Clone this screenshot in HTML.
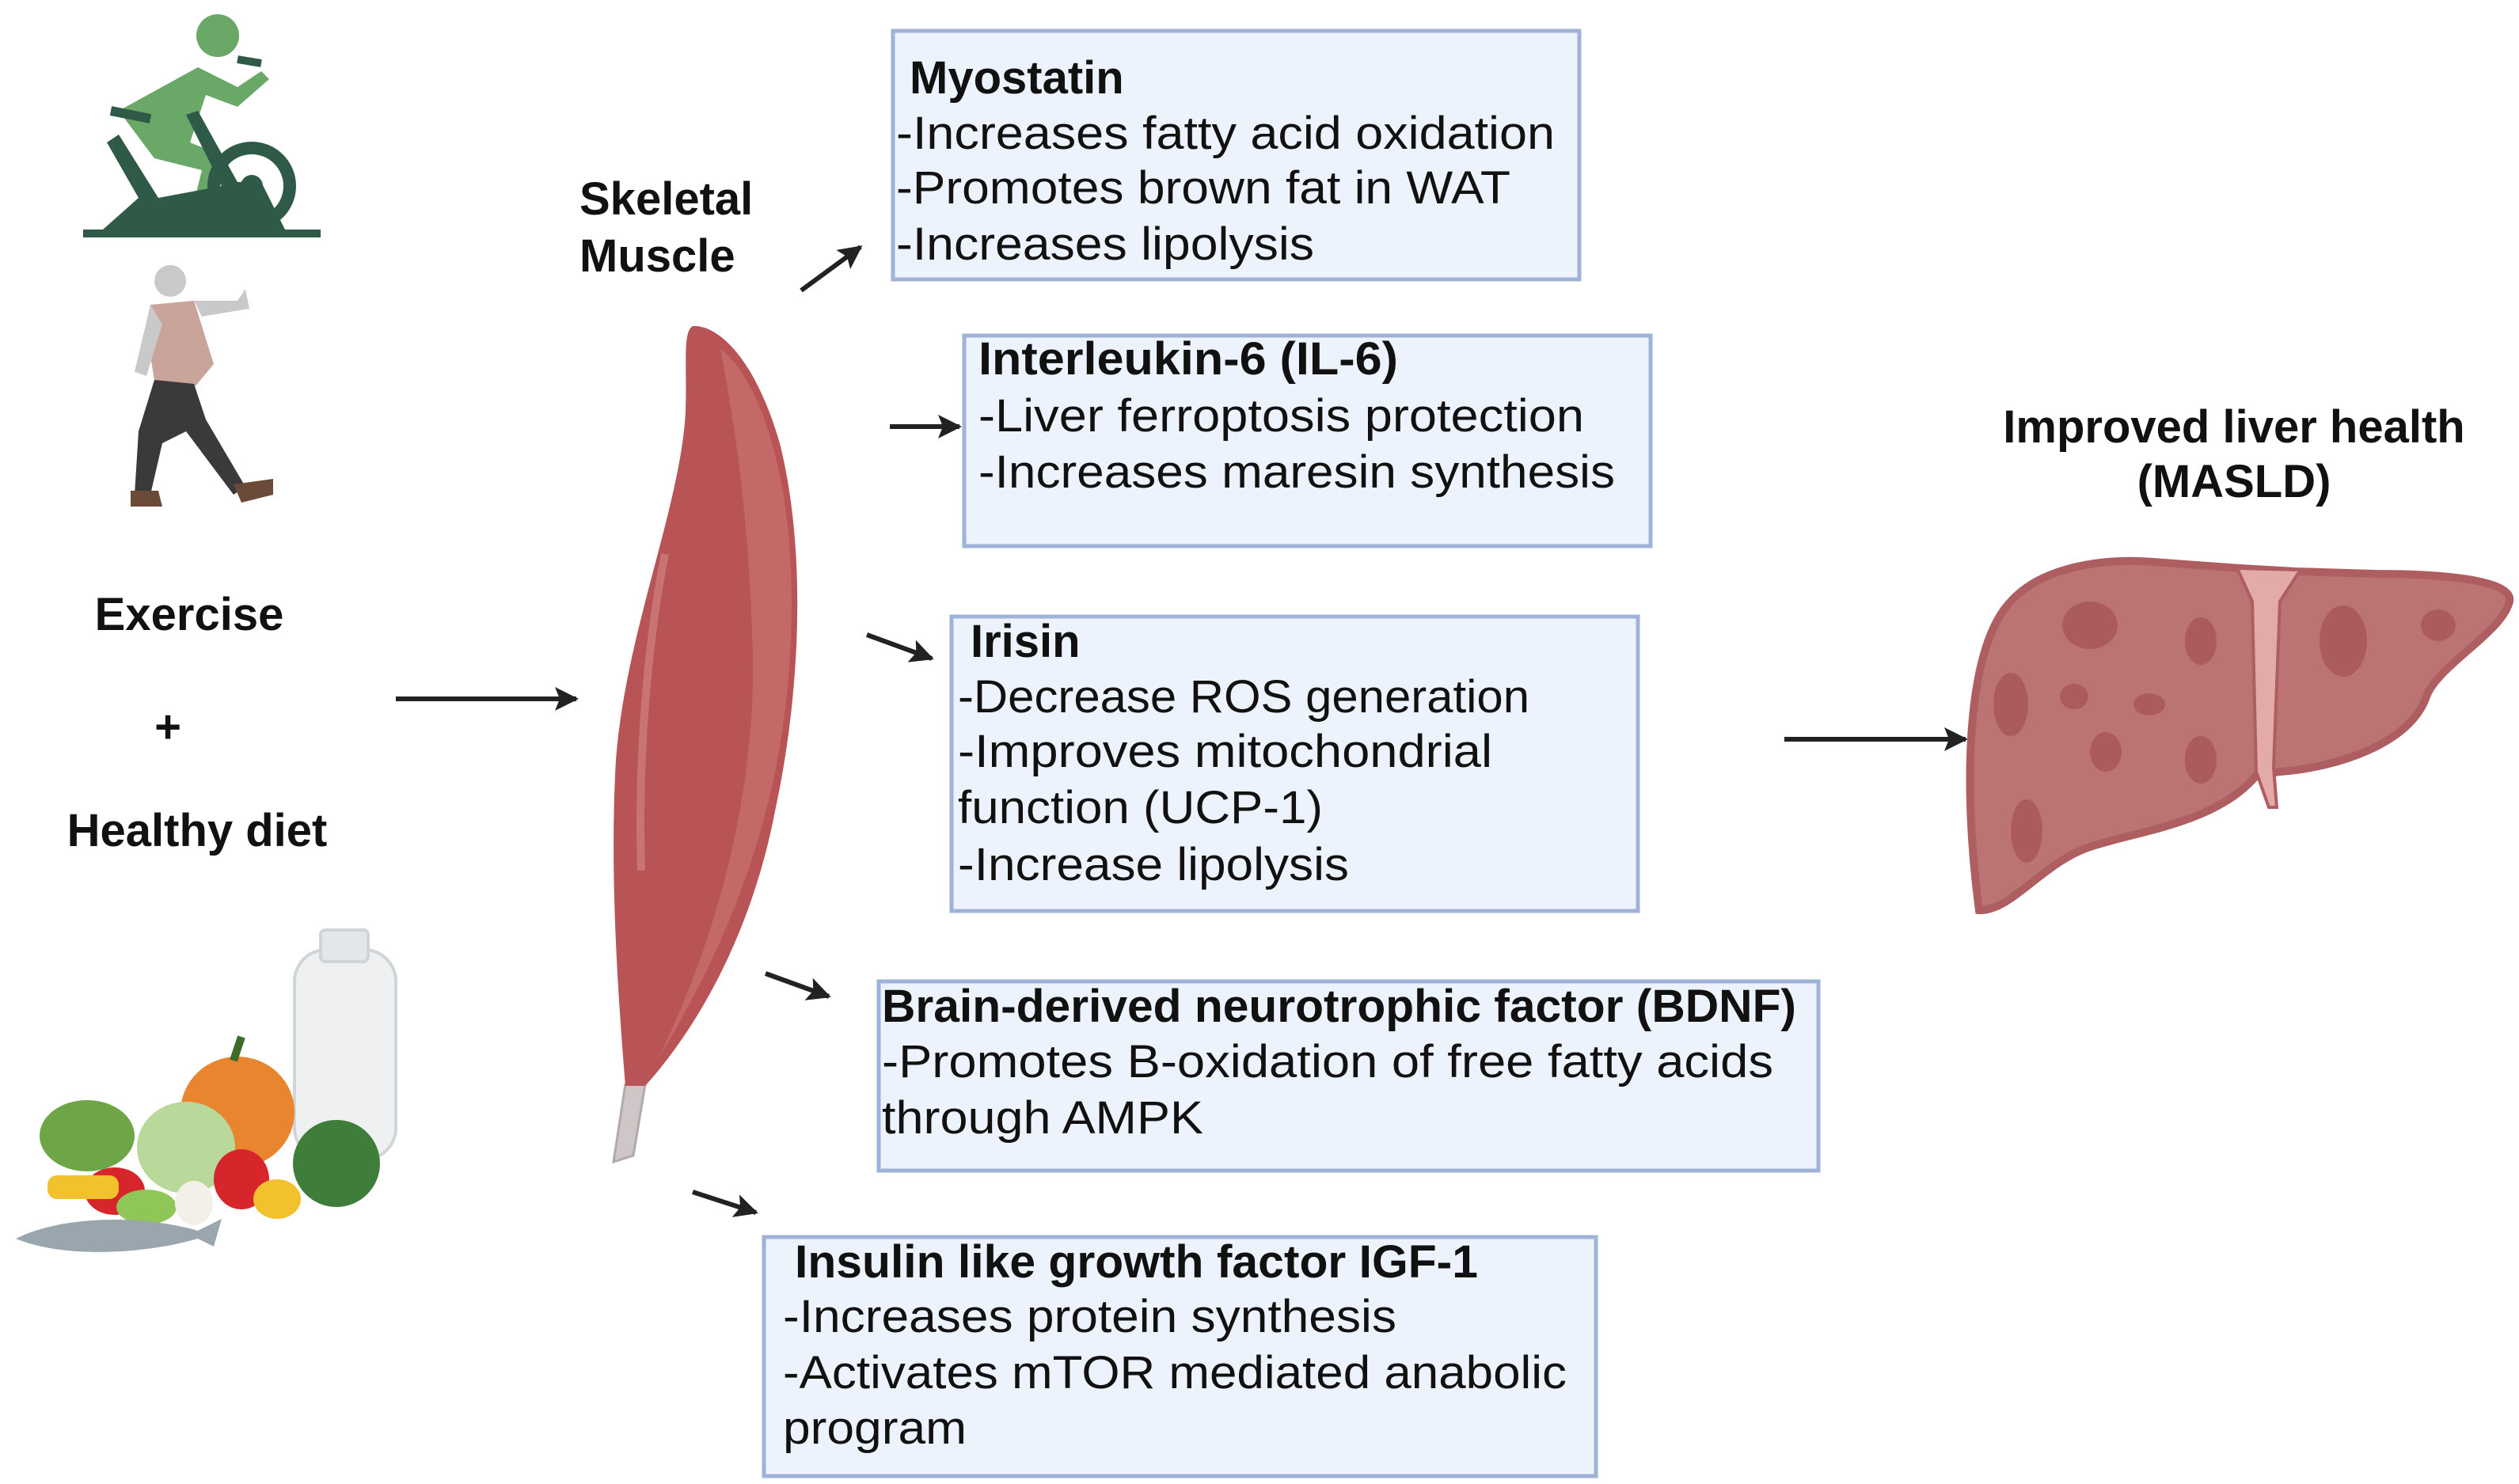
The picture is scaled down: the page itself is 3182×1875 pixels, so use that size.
<!DOCTYPE html>
<html><head><meta charset="utf-8"><style>
html,body{margin:0;padding:0;background:#fff;}
svg{display:block;}
text{font-family:"Liberation Sans",sans-serif;fill:#111;}
.t{font-weight:bold;font-size:58px;}
.l{font-size:58px;}
</style></head><body>
<svg width="3182" height="1875" viewBox="0 0 3182 1875" xmlns="http://www.w3.org/2000/svg">
<defs>
<marker id="ah" viewBox="0 0 10 10" refX="9" refY="5" markerWidth="5" markerHeight="5" orient="auto" markerUnits="strokeWidth">
<path d="M0,0 L10,5 L0,10 L2,5 Z" fill="#222"/></marker>
</defs>

<!-- cyclist -->
<g>
<circle cx="275" cy="45" r="27" fill="#6aa868"/>
<path d="M150 140 L250 85 L300 110 L330 90 L340 100 L300 135 L260 120 L240 180 L290 200 L270 260 L245 255 L255 215 L195 200 Z" fill="#6aa868"/>
<path d="M105 300 L405 300 L405 290 L360 290 L330 230 L300 230 L250 140 L235 145 L280 235 L200 250 L150 170 L135 180 L175 250 L130 290 L105 290 Z" fill="#2f5a48"/>
<circle cx="318" cy="235" r="48" fill="none" stroke="#2f5a48" stroke-width="16"/>
<circle cx="318" cy="235" r="14" fill="#2f5a48"/>
<path d="M140 140 L190 150" stroke="#2f5a48" stroke-width="12"/>
<path d="M300 75 L330 80" stroke="#2f5a48" stroke-width="10"/>
</g>
<!-- walker -->
<g>
<circle cx="215" cy="355" r="20" fill="#c9c9c9"/>
<path d="M190 385 L245 380 L270 460 L245 490 L195 480 L185 420 Z" fill="#c8a49a"/>
<path d="M190 385 L170 470 L185 475 L205 410 Z" fill="#c9c9c9"/>
<path d="M245 380 L300 380 L310 365 L315 390 L255 400 Z" fill="#c9c9c9"/>
<path d="M195 480 L245 485 L260 530 L310 615 L295 625 L235 545 L205 560 L190 625 L170 625 L175 545 Z" fill="#3a3a3a"/>
<path d="M165 620 L200 620 L205 640 L165 640 Z M295 612 L345 605 L345 625 L305 635 Z" fill="#6b4a3a"/>
</g>
<!-- food -->
<g>
<rect x="372" y="1200" width="128" height="265" rx="40" fill="#eef0f1" stroke="#cfd4d6" stroke-width="4"/>
<rect x="405" y="1175" width="60" height="40" rx="6" fill="#e4e7e9" stroke="#cfd4d6" stroke-width="4"/>
<ellipse cx="300" cy="1405" rx="72" ry="70" fill="#e9852e"/>
<path d="M295 1340 L305 1310" stroke="#3d6b2a" stroke-width="10"/>
<ellipse cx="110" cy="1435" rx="60" ry="45" fill="#6ea546"/>
<ellipse cx="235" cy="1450" rx="62" ry="58" fill="#b9d99a"/>
<ellipse cx="425" cy="1470" rx="55" ry="55" fill="#3f7e3a"/>
<ellipse cx="305" cy="1490" rx="35" ry="38" fill="#d6262c"/>
<ellipse cx="145" cy="1505" rx="38" ry="30" fill="#d6262c"/>
<rect x="60" y="1485" width="90" height="30" rx="12" fill="#f2c12e"/>
<ellipse cx="350" cy="1515" rx="30" ry="25" fill="#f2c12e"/>
<ellipse cx="185" cy="1525" rx="38" ry="22" fill="#8ec657"/>
<ellipse cx="245" cy="1520" rx="24" ry="28" fill="#f2f0e8"/>
<path d="M20 1565 C 80 1535, 180 1535, 250 1555 L 280 1540 L 270 1575 L 250 1565 C 180 1585, 80 1590, 20 1565 Z" fill="#9aa6ad"/>
</g>

<!-- left labels -->
<text class="t" x="239" y="796" text-anchor="middle" font-size="60">Exercise</text>
<text class="t" x="212" y="938" text-anchor="middle" font-size="60">+</text>
<text class="t" x="249" y="1069" text-anchor="middle" font-size="60">Healthy diet</text>
<text class="t" x="732" y="271" font-size="60">Skeletal</text>
<text class="t" x="732" y="343" font-size="60">Muscle</text>

<!-- muscle -->
<path d="M790 1370 L815 1370 L800 1460 L775 1468 Z" fill="#cfc7c7" stroke="#b3aaaa" stroke-width="3"/>
<path d="M875 412 C 900 410, 950 440, 985 560 C 1020 700, 1010 880, 980 1020 C 950 1180, 880 1300, 815 1372 L 790 1372 C 780 1250, 770 1100, 778 960 C 790 800, 860 640, 866 520 C 868 460, 862 420, 875 412 Z" fill="#b85455"/>
<path d="M910 440 C 960 480, 1000 600, 1000 760 C 1000 980, 940 1160, 830 1340 C 900 1200, 960 1000, 950 800 C 945 640, 925 520, 910 440 Z" fill="#c46b69" opacity="0.9"/>
<path d="M840 700 C 820 800, 805 950, 810 1100" stroke="#c87472" stroke-width="10" fill="none"/>

<!-- arrows -->
<g stroke="#222" stroke-width="6" fill="none" marker-end="url(#ah)">
<line x1="500" y1="883" x2="728" y2="883"/>
<line x1="2254" y1="934" x2="2483" y2="934"/>
<line x1="1012" y1="367" x2="1087" y2="312"/>
<line x1="1124" y1="539" x2="1212" y2="539"/>
<line x1="1095" y1="802" x2="1177" y2="832"/>
<line x1="967" y1="1230" x2="1047" y2="1259"/>
<line x1="875" y1="1506" x2="955" y2="1532"/>
</g>

<!-- boxes -->
<g fill="#edf3fc" stroke="#9fb3d9" stroke-width="5">
<rect x="1128" y="39" width="867" height="314"/>
<rect x="1218" y="424" width="867" height="266"/>
<rect x="1202" y="779" width="867" height="372"/>
<rect x="1110" y="1240" width="1187" height="239"/>
<rect x="965" y="1563" width="1051" height="302"/>
</g>

<text class="t" x="1149" y="118">Myostatin</text>
<text class="l" x="1132" y="188" textLength="832" lengthAdjust="spacingAndGlyphs">-Increases fatty acid oxidation</text>
<text class="l" x="1132" y="257" textLength="776" lengthAdjust="spacingAndGlyphs">-Promotes brown fat in WAT</text>
<text class="l" x="1132" y="328" textLength="528" lengthAdjust="spacingAndGlyphs">-Increases lipolysis</text>

<text class="t" x="1236" y="473" textLength="530" lengthAdjust="spacingAndGlyphs">Interleukin-6 (IL-6)</text>
<text class="l" x="1236" y="545" textLength="765" lengthAdjust="spacingAndGlyphs">-Liver ferroptosis protection</text>
<text class="l" x="1236" y="616" textLength="804" lengthAdjust="spacingAndGlyphs">-Increases maresin synthesis</text>

<text class="t" x="1226" y="830">Irisin</text>
<text class="l" x="1210" y="900" textLength="722" lengthAdjust="spacingAndGlyphs">-Decrease ROS generation</text>
<text class="l" x="1210" y="969" textLength="675" lengthAdjust="spacingAndGlyphs">-Improves mitochondrial</text>
<text class="l" x="1210" y="1040" textLength="461" lengthAdjust="spacingAndGlyphs">function (UCP-1)</text>
<text class="l" x="1210" y="1112" textLength="494" lengthAdjust="spacingAndGlyphs">-Increase lipolysis</text>

<text class="t" x="1114" y="1291" textLength="1155" lengthAdjust="spacingAndGlyphs">Brain-derived neurotrophic factor (BDNF)</text>
<text class="l" x="1114" y="1361" textLength="1126" lengthAdjust="spacingAndGlyphs">-Promotes B-oxidation of free fatty acids</text>
<text class="l" x="1114" y="1432" textLength="406" lengthAdjust="spacingAndGlyphs">through AMPK</text>

<text class="t" x="1004" y="1614" textLength="863" lengthAdjust="spacingAndGlyphs">Insulin like growth factor IGF-1</text>
<text class="l" x="989" y="1683" textLength="775" lengthAdjust="spacingAndGlyphs">-Increases protein synthesis</text>
<text class="l" x="989" y="1754" textLength="990" lengthAdjust="spacingAndGlyphs">-Activates mTOR mediated anabolic</text>
<text class="l" x="989" y="1824" textLength="232" lengthAdjust="spacingAndGlyphs">program</text>

<text class="t" x="2822" y="559" text-anchor="middle" font-size="60">Improved liver health</text>
<text class="t" x="2822" y="628" text-anchor="middle" font-size="60">(MASLD)</text>

<!-- liver -->
<path d="M2500 1150 C 2480 1000, 2482 820, 2540 760 C 2580 715, 2660 705, 2720 710 L 2830 718 L 2900 722 L 3000 725 C 3100 725, 3175 735, 3170 760 C 3160 800, 3080 840, 3065 880 C 3045 940, 2950 970, 2880 975 L 2850 980 C 2800 1040, 2700 1050, 2640 1070 C 2580 1090, 2540 1152, 2500 1150 Z" fill="#bb7473" stroke="#ae5e60" stroke-width="10"/>
<path d="M2826 718 L2906 720 L2880 760 L2872 970 L2876 1020 L2866 1020 L2850 975 L2845 760 Z" fill="#e2aaa8" stroke="#ae5e60" stroke-width="4"/>
<g fill="#a95558" opacity="0.8">
<ellipse cx="2640" cy="790" rx="35" ry="30"/>
<ellipse cx="2540" cy="890" rx="22" ry="40"/>
<ellipse cx="2620" cy="880" rx="18" ry="16"/>
<ellipse cx="2715" cy="890" rx="20" ry="14"/>
<ellipse cx="2660" cy="950" rx="20" ry="25"/>
<ellipse cx="2780" cy="810" rx="20" ry="30"/>
<ellipse cx="2780" cy="960" rx="20" ry="30"/>
<ellipse cx="2960" cy="810" rx="30" ry="45"/>
<ellipse cx="3080" cy="790" rx="22" ry="20"/>
<ellipse cx="2560" cy="1050" rx="20" ry="40"/>
</g>
</svg>
</body></html>
